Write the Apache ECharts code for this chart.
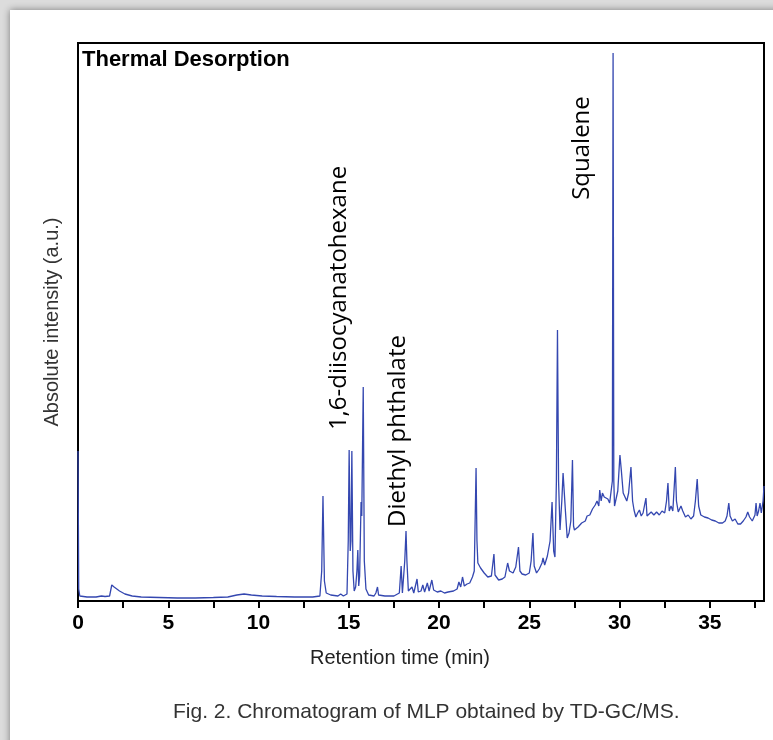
<!DOCTYPE html>
<html>
<head>
<meta charset="utf-8">
<title>Chromatogram TD-GC/MS</title>
<script src="https://cdn.jsdelivr.net/npm/echarts@6/dist/echarts.min.js"></script>
<style>
  html, body { margin: 0; padding: 0; background: #dcdcdc; }
  #card { position: absolute; left: 10px; top: 10px; width: 820px; height: 800px;
          background: #fff; box-shadow: 0 0 7px rgba(0,0,0,0.45); }
  #main { position: absolute; left: 0; top: 0; width: 773px; height: 740px; }
</style>
</head>
<body>
<div id="card"></div>
<div id="main"></div>
<script type="text/javascript">
// retention time (min)
var retentionTime = [
  0, 0.04, 0.1, 0.5, 1.0, 1.3, 1.4, 1.5, 1.75, 1.87, 2.0, 2.3, 2.6, 3.0, 3.5, 4.5, 5.5, 6.5, 7.5, 8.3,
  8.8, 9.2, 9.6, 10.2, 11, 12, 13, 13.4, 13.5, 13.57, 13.65, 13.75, 14, 14.4, 14.55, 14.7, 14.9,
  14.97, 15.02, 15.08, 15.12, 15.17, 15.23, 15.3, 15.38, 15.45, 15.5, 15.55, 15.6, 15.68, 15.72, 15.8,
  15.86, 15.95, 16.1, 16.4, 16.5, 16.59, 16.65, 17, 17.5, 17.8, 17.9, 17.97, 18.05, 18.1, 18.17, 18.22,
  18.3, 18.4, 18.5, 18.6, 18.78, 18.85, 19.0, 19.1, 19.2, 19.35, 19.45, 19.6, 19.7, 19.8, 19.9, 20.1,
  20.3, 20.5, 20.8, 21.0, 21.1, 21.2, 21.3, 21.4, 21.55, 21.7, 21.85, 21.95, 22.05, 22.1, 22.15, 22.3,
  22.5, 22.7, 22.9, 23.04, 23.1, 23.3, 23.5, 23.65, 23.8, 23.9, 24.0, 24.1, 24.25, 24.4, 24.48, 24.6,
  24.8, 25.0, 25.1, 25.2, 25.27, 25.4, 25.55, 25.7, 25.76, 25.85, 26.0, 26.15, 26.26, 26.35, 26.42,
  26.5, 26.56, 26.62, 26.7, 26.8, 26.87, 26.93, 27.0, 27.1, 27.2, 27.3, 27.39, 27.45, 27.5, 27.7, 27.9,
  28.1, 28.2, 28.35, 28.5, 28.65, 28.75, 28.85, 28.9, 28.98, 29.05, 29.15, 29.25, 29.35, 29.45, 29.55,
  29.6, 29.64, 29.68, 29.72, 29.8, 29.9, 30.02, 30.1, 30.2, 30.3, 30.4, 30.5, 30.63, 30.72, 30.8, 30.9,
  31.0, 31.1, 31.2, 31.3, 31.46, 31.52, 31.6, 31.75, 31.9, 32.05, 32.2, 32.35, 32.5, 32.6, 32.68, 32.75,
  32.85, 32.95, 33.09, 33.15, 33.25, 33.4, 33.5, 33.65, 33.8, 33.95, 34.1, 34.2, 34.3, 34.38, 34.5,
  34.7, 34.9, 35.1, 35.3, 35.5, 35.7, 35.85, 35.95, 36.05, 36.12, 36.25, 36.4, 36.55, 36.7, 36.85,
  37.0, 37.1, 37.2, 37.35, 37.5, 37.56, 37.62, 37.7, 37.78, 37.85, 37.95, 38.0
];
// absolute intensity (a.u.)
var intensity = [
  150, 12, 5, 4, 4, 5, 6, 4.5, 5, 16, 14, 10, 7, 5, 4, 3.5, 3, 3, 3.5, 4,
  6, 7, 6, 5, 4.5, 4, 4, 5, 30, 105, 20, 8, 6, 5, 7, 5, 7,
  60, 151, 50, 60, 150, 30, 10, 14, 30, 51, 15, 25, 99, 85, 214,
  40, 12, 6, 5, 8, 14, 6, 5, 5, 8, 35, 8, 10, 40, 70, 40,
  10, 8, 14, 8, 22, 9, 10, 16, 9, 18, 10, 21, 11, 13, 9, 10,
  8, 9, 10, 12, 19, 14, 24, 15, 17, 18, 24, 30, 133, 60, 38, 33,
  28, 24, 25, 47, 26, 21, 22, 24, 38, 30, 32, 28, 34, 54, 30, 27,
  26, 28, 40, 68, 35, 28, 32, 38, 43, 36, 45, 60, 99, 50, 44,
  120, 271, 120, 71, 100, 128, 128, 90, 63, 68, 80, 141, 75, 71, 74, 78,
  80, 85, 86, 92, 96, 100, 95, 111, 100, 108, 104, 106, 102, 98, 96,
  120, 548, 120, 95, 93, 110, 146, 130, 108, 104, 100, 108, 134, 100, 91, 84,
  88, 91, 85, 88, 103, 85, 84, 89, 86, 89, 86, 90, 88, 100, 118, 90,
  95, 90, 134, 100, 89, 95, 90, 84, 86, 82, 85, 100, 122, 95, 86,
  84, 83, 81, 80, 78, 78, 80, 85, 98, 85, 80, 82, 77, 77, 80,
  84, 89, 84, 80, 86, 98, 85, 90, 98, 88, 100, 115
];
var xTicks = [0, 5, 10, 15, 20, 25, 30, 35];
var peakNames = ['1,6-diisocyanatohexane', 'Diethyl phthalate', 'Squalene'];

var points = retentionTime.map(function (t, i) { return [t, intensity[i]]; });

var chart = echarts.init(document.getElementById('main'));
chart.setOption({
  animation: false,
  title: {
    text: 'Fig. 2. Chromatogram of MLP obtained by TD-GC/MS.',
    left: 168, top: 697,
    textStyle: { fontFamily: 'Liberation Sans', fontSize: 21, fontWeight: 'normal', color: '#333' }
  },
  grid: { left: 78, top: 43, right: 9, bottom: 139, show: true, borderColor: '#000', borderWidth: 2 },
  xAxis: {
    type: 'value', min: 0, max: 38, interval: 2.5,
    name: 'Retention time (min)', nameLocation: 'middle', nameGap: 47,
    nameTextStyle: { fontFamily: 'Liberation Sans', fontSize: 20, color: '#222', padding: [0, 42, 0, 0] },
    axisLine: { lineStyle: { color: '#000', width: 2 } },
    axisTick: { length: 7, lineStyle: { color: '#000', width: 2 } },
    axisLabel: {
      margin: 12, color: '#000', fontFamily: 'Liberation Sans', fontSize: 21, fontWeight: 'bold',
      formatter: function (v) { return xTicks.indexOf(v) >= 0 ? String(v) : ''; },
      showMaxLabel: false
    },
    splitLine: { show: false }
  },
  yAxis: {
    type: 'value', min: 0, max: 558,
    name: 'Absolute intensity (a.u.)', nameLocation: 'middle', nameGap: 16,
    nameTextStyle: { fontFamily: 'Liberation Sans', fontSize: 20, color: '#333' },
    axisLine: { show: true, lineStyle: { color: '#000', width: 2 } },
    axisTick: { show: false }, axisLabel: { show: false }, splitLine: { show: false }
  },
  series: [{
    type: 'line', data: points, showSymbol: false,
    lineStyle: { color: '#3447b0', width: 1.3 }
  }],
  graphic: [
    { type: 'text', x: 82, y: 60, style: { text: 'Thermal Desorption', font: 'bold 22px "Liberation Sans"', fill: '#000', align: 'left', verticalAlign: 'middle' } },
    { type: 'text', x: 339, y: 298, rotation: Math.PI / 2, style: { text: peakNames[0], font: '24px "Open Sans"', fill: '#000', align: 'center', verticalAlign: 'middle' } },
    { type: 'text', x: 398, y: 431, rotation: Math.PI / 2, style: { text: peakNames[1], font: '24px "Open Sans"', fill: '#000', align: 'center', verticalAlign: 'middle' } },
    { type: 'text', x: 582, y: 148, rotation: Math.PI / 2, style: { text: peakNames[2], font: '24px "Open Sans"', fill: '#000', align: 'center', verticalAlign: 'middle' } }
  ]
});
</script>
</body>
</html>
